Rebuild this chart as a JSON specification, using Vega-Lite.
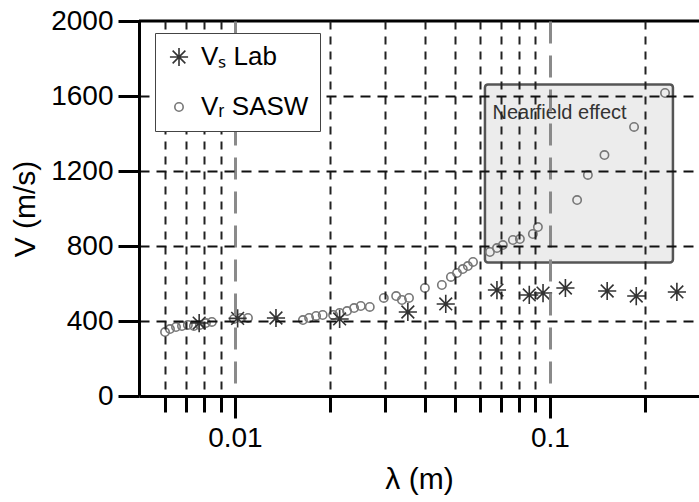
{
  "$schema": "https://vega.github.io/schema/vega-lite/v6.json",
  "width": 560,
  "height": 375,
  "autosize": {"type": "none"},
  "padding": {"left": 139, "top": 21, "right": 0, "bottom": 106},
  "background": "white",
  "config": {
    "view": {"stroke": null},
    "font": "Liberation Sans"
  },
  "layer": [
    {
      "data": {"values": [{"lam": 0.0622, "lam2": 0.2458, "v": 712, "v2": 1662}]},
      "mark": {"type": "rect", "fill": "#ececec", "stroke": "#555555", "strokeWidth": 2.5, "cornerRadius": 3},
      "encoding": {
        "x": {"field": "lam", "type": "quantitative", "title": "λ (m)", "scale": {"type": "log", "domain": [0.00496, 0.2974]}},
        "x2": {"field": "lam2"},
        "y": {"field": "v", "type": "quantitative", "title": "V (m/s)", "scale": {"domain": [0, 2000]}},
        "y2": {"field": "v2"}
      }
    },
    {
      "data": {"values": [{"lam": 0.0657, "v": 1510, "label": "Nearfield effect"}]},
      "mark": {"type": "text", "align": "left", "baseline": "middle", "fontSize": 20, "color": "#333333", "font": "Liberation Sans"},
      "encoding": {
        "x": {"field": "lam", "type": "quantitative", "title": "λ (m)", "scale": {"type": "log", "domain": [0.00496, 0.2974]}},
        "y": {"field": "v", "type": "quantitative", "title": "V (m/s)", "scale": {"domain": [0, 2000]}},
        "text": {"field": "label"}
      }
    },
    {
      "data": {"values": [
        {"lam": 0.0060, "v": 341, "series": "SASW"},
        {"lam": 0.00622, "v": 357, "series": "SASW"},
        {"lam": 0.0065, "v": 368, "series": "SASW"},
        {"lam": 0.00679, "v": 373, "series": "SASW"},
        {"lam": 0.00709, "v": 379, "series": "SASW"},
        {"lam": 0.00741, "v": 373, "series": "SASW"},
        {"lam": 0.00774, "v": 379, "series": "SASW"},
        {"lam": 0.00809, "v": 389, "series": "SASW"},
        {"lam": 0.00845, "v": 395, "series": "SASW"},
        {"lam": 0.00993, "v": 411, "series": "SASW"},
        {"lam": 0.01045, "v": 416, "series": "SASW"},
        {"lam": 0.0110, "v": 416, "series": "SASW"},
        {"lam": 0.01644, "v": 405, "series": "SASW"},
        {"lam": 0.0172, "v": 416, "series": "SASW"},
        {"lam": 0.0181, "v": 427, "series": "SASW"},
        {"lam": 0.0190, "v": 432, "series": "SASW"},
        {"lam": 0.0205, "v": 432, "series": "SASW"},
        {"lam": 0.0215, "v": 443, "series": "SASW"},
        {"lam": 0.0227, "v": 453, "series": "SASW"},
        {"lam": 0.0239, "v": 469, "series": "SASW"},
        {"lam": 0.0251, "v": 480, "series": "SASW"},
        {"lam": 0.0268, "v": 475, "series": "SASW"},
        {"lam": 0.0297, "v": 523, "series": "SASW"},
        {"lam": 0.0325, "v": 533, "series": "SASW"},
        {"lam": 0.0339, "v": 512, "series": "SASW"},
        {"lam": 0.0357, "v": 523, "series": "SASW"},
        {"lam": 0.0401, "v": 576, "series": "SASW"},
        {"lam": 0.0454, "v": 592, "series": "SASW"},
        {"lam": 0.0485, "v": 635, "series": "SASW"},
        {"lam": 0.0507, "v": 656, "series": "SASW"},
        {"lam": 0.0529, "v": 677, "series": "SASW"},
        {"lam": 0.0549, "v": 693, "series": "SASW"},
        {"lam": 0.0570, "v": 715, "series": "SASW"},
        {"lam": 0.0645, "v": 768, "series": "SASW"},
        {"lam": 0.0679, "v": 789, "series": "SASW"},
        {"lam": 0.0709, "v": 805, "series": "SASW"},
        {"lam": 0.0763, "v": 832, "series": "SASW"},
        {"lam": 0.0803, "v": 837, "series": "SASW"},
        {"lam": 0.0883, "v": 864, "series": "SASW"},
        {"lam": 0.0916, "v": 901, "series": "SASW"},
        {"lam": 0.122, "v": 1045, "series": "SASW"},
        {"lam": 0.132, "v": 1179, "series": "SASW"},
        {"lam": 0.149, "v": 1285, "series": "SASW"},
        {"lam": 0.185, "v": 1435, "series": "SASW"},
        {"lam": 0.232, "v": 1616, "series": "SASW"},
        {"lam": 0.0077, "v": 389, "series": "Lab"},
        {"lam": 0.0102, "v": 414, "series": "Lab"},
        {"lam": 0.0135, "v": 416, "series": "Lab"},
        {"lam": 0.0215, "v": 411, "series": "Lab"},
        {"lam": 0.0354, "v": 448, "series": "Lab"},
        {"lam": 0.0467, "v": 491, "series": "Lab"},
        {"lam": 0.0679, "v": 565, "series": "Lab"},
        {"lam": 0.0860, "v": 539, "series": "Lab"},
        {"lam": 0.0951, "v": 549, "series": "Lab"},
        {"lam": 0.1120, "v": 576, "series": "Lab"},
        {"lam": 0.152, "v": 560, "series": "Lab"},
        {"lam": 0.188, "v": 533, "series": "Lab"},
        {"lam": 0.253, "v": 555, "series": "Lab"}
      ]},
      "mark": {"type": "point", "filled": false, "strokeWidth": 1.6, "opacity": 1},
      "encoding": {
        "x": {
          "field": "lam", "type": "quantitative", "title": "λ (m)",
          "scale": {"type": "log", "domain": [0.00496, 0.2974]},
          "axis": {
            "values": [0.006, 0.007, 0.008, 0.009, 0.01, 0.02, 0.03, 0.04, 0.05, 0.06, 0.07, 0.08, 0.09, 0.1, 0.2],
            "labelExpr": "datum.value == 0.01 ? '0.01' : (datum.value == 0.1 ? '0.1' : '')",
            "labelOverlap": false,
            "labelFlush": false,
            "labelFontSize": 28,
            "labelColor": "black",
            "labelPadding": 6,
            "tickSize": {"condition": {"test": "datum.value == 0.01 || datum.value == 0.1", "value": 22}, "value": 16},
            "tickWidth": 3,
            "tickColor": "black",
            "domainColor": "black",
            "domainWidth": 3,
            "grid": true,
            "gridDash": {"condition": {"test": "datum.value == 0.01 || datum.value == 0.1", "value": [22, 12]}, "value": [8, 7]},
            "gridColor": {"condition": {"test": "datum.value == 0.01 || datum.value == 0.1", "value": "#8a8a8a"}, "value": "#222222"},
            "gridWidth": {"condition": {"test": "datum.value == 0.01 || datum.value == 0.1", "value": 3}, "value": 2},
            "titleFontSize": 30,
            "titleFontWeight": "normal",
            "titleColor": "black",
            "titlePadding": 12,
            "zindex": 1
          }
        },
        "y": {
          "field": "v", "type": "quantitative", "title": "V (m/s)",
          "scale": {"domain": [0, 2000]},
          "axis": {
            "values": [0, 200, 400, 600, 800, 1000, 1200, 1400, 1600, 1800, 2000],
            "format": "d",
            "labelExpr": "datum.value % 400 == 0 ? datum.label : ''",
            "labelFontSize": 28,
            "labelColor": "black",
            "labelPadding": 5,
            "labelFlush": false,
            "labelOverlap": false,
            "tickSize": {"condition": {"test": "datum.value % 400 == 0", "value": 21}, "value": 15},
            "tickWidth": 3,
            "tickColor": "black",
            "domainColor": "black",
            "domainWidth": 3,
            "grid": true,
            "gridDash": [10, 7],
            "gridColor": "#111111",
            "gridWidth": 2,
            "gridOpacity": {"condition": {"test": "datum.value % 400 == 0 && datum.value > 0 && datum.value < 2000", "value": 1}, "value": 0},
            "titleFontSize": 30,
            "titleFontWeight": "normal",
            "titleColor": "black",
            "titlePadding": 10,
            "zindex": 1
          }
        },
        "shape": {
          "field": "series", "type": "nominal",
          "scale": {"domain": ["Lab", "SASW"], "range": ["M-1,0L1,0M0,-1L0,1M-0.7,-0.7L0.7,0.7M-0.7,0.7L0.7,-0.7", "circle"]},
          "legend": {
            "orient": "none",
            "legendX": 16,
            "legendY": 12,
            "title": null,
            "strokeColor": "#444444",
            "fillColor": "white",
            "padding": 11,
            "labelFontSize": 26,
            "labelFont": "Liberation Sans",
            "labelColor": "black",
            "labelOffset": 9,
            "rowPadding": 24,
            "symbolStrokeWidth": 1.6,
            "labelExpr": "datum.label == 'Lab' ? 'Vₛ Lab' : 'Vᵣ SASW'",
            "zindex": 2
          }
        },
        "color": {
          "field": "series", "type": "nominal",
          "scale": {"domain": ["Lab", "SASW"], "range": ["#333333", "#777777"]}
        },
        "size": {
          "field": "series", "type": "nominal",
          "scale": {"domain": ["Lab", "SASW"], "range": [330, 70]}
        }
      }
    },
    {
      "data": {"values": [{}]},
      "mark": {"type": "rule", "color": "black", "strokeWidth": 3},
      "encoding": {
        "y": {"datum": 2000, "type": "quantitative", "title": "V (m/s)", "scale": {"domain": [0, 2000]}}
      }
    }
  ]
}
